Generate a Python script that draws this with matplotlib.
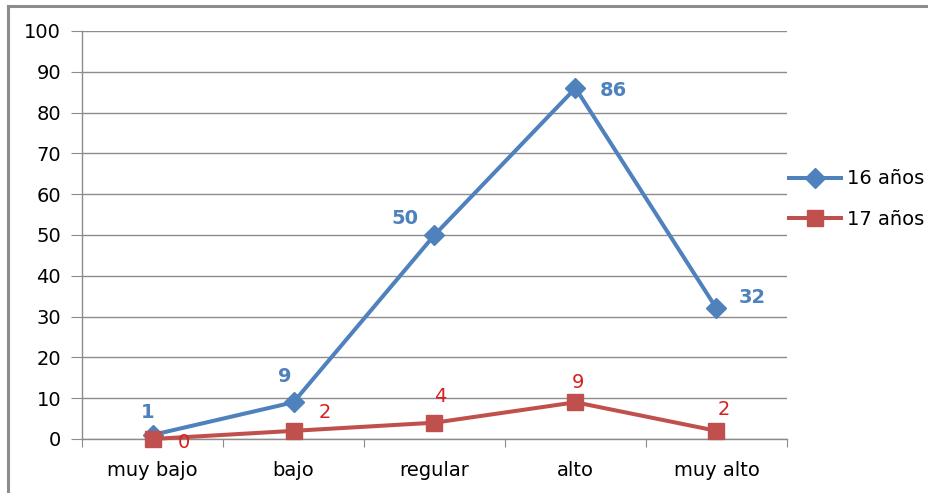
import matplotlib.pyplot as plt
from matplotlib.lines import Line2D

categorias = ['muy bajo', 'bajo', 'regular', 'alto', 'muy alto']
serie_16 = [1, 9, 50, 86, 32]
serie_17 = [0, 2, 4, 9, 2]
yticks = [0, 10, 20, 30, 40, 50, 60, 70, 80, 90, 100]

azul = '#4F81BD'
rojo = '#C0504D'
rojo_txt = '#D81E1E'
gris = '#8C8C8C'

plt.rcParams['font.family'] = ['DejaVu Sans']

fig = plt.figure(figsize=(9.29, 4.93), dpi=100)
ax = fig.add_axes([82/929, 1-439/493, 705/929, 408/493])

x = list(range(len(categorias)))
ax.plot(x, serie_16, color=azul, lw=2.9, marker='D', ms=10, label='16 años',
        clip_on=False, zorder=3)
ax.plot(x, serie_17, color=rojo, lw=2.9, marker='s', ms=11.5, label='17 años',
        clip_on=False, zorder=4)

# etiquetas de datos (desplazamientos en pixeles)
off_16 = [(-5, 22), (-9, 26), (-30, 17), (38, -2), (36, 11)]
off_17 = [(31, -3), (31, 18), (6, 26), (2, 20), (7, 21)]
for i, v in enumerate(serie_16):
    ax.annotate(str(v), (i, v), xytext=off_16[i], textcoords='offset pixels',
                ha='center', va='center', color=azul, fontsize=14,
                fontweight='bold', zorder=5)
for i, v in enumerate(serie_17):
    ax.annotate(str(v), (i, v), xytext=off_17[i], textcoords='offset pixels',
                ha='center', va='center', color=rojo_txt, fontsize=14, zorder=5)

ax.set_xlim(-0.5, len(categorias) - 0.5)
ax.set_ylim(0, 100)
ax.set_yticks(yticks)
ax.set_yticklabels([str(t) for t in yticks], fontsize=14)
ax.set_xticks([i - 0.5 for i in range(len(categorias) + 1)])
ax.set_xticklabels([])
ax.set_xticks(x, minor=True)
ax.set_xticklabels(categorias, minor=True, fontsize=14)
ax.tick_params(axis='x', which='minor', length=0, pad=16)
ax.tick_params(axis='x', which='major', length=6, color=gris, direction='out')
ax.tick_params(axis='y', length=8, color=gris, pad=7)
ax.grid(axis='y', color=gris, lw=1)
ax.set_axisbelow(True)
for s in ['top', 'right']:
    ax.spines[s].set_visible(False)
for s in ['left', 'bottom']:
    ax.spines[s].set_color(gris)
    ax.spines[s].set_linewidth(1)

ax.legend(loc='center left', bbox_to_anchor=(779/929, 1-199/493),
          bbox_transform=fig.transFigure, frameon=False, fontsize=14,
          handlelength=2.7, handletextpad=0.3, labelspacing=1.1, borderpad=0)

# borde de la imagen
fig.add_artist(Line2D([8/929, 8/929], [0, 1-6/493], color=gris, lw=2.2,
                      transform=fig.transFigure))
fig.add_artist(Line2D([8/929, 1], [1-6/493, 1-6/493], color=gris, lw=2.2,
                      transform=fig.transFigure))

fig.savefig('out.png', dpi=100)
